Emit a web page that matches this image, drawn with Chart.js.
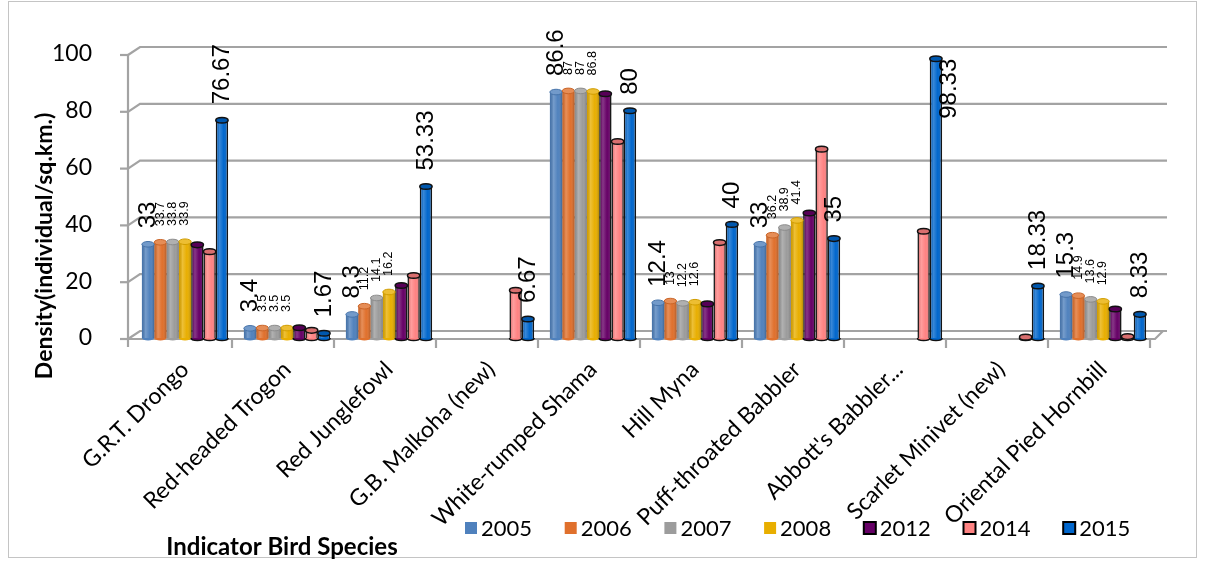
<!DOCTYPE html>
<html>
<head>
<meta charset="utf-8">
<script src="https://cdn.jsdelivr.net/npm/chart.js@4.4.1/dist/chart.umd.min.js"></script>
<style>
  html, body { margin: 0; padding: 0; background: #ffffff; }
  #wrap { width: 1205px; height: 561px; position: relative; }
</style>
</head>
<body>
<div id="wrap"><canvas id="c" width="1205" height="561"></canvas></div>
<script>
// Indicator bird species and survey years
const categories = [
  'G.R.T. Drongo', 'Red-headed Trogon', 'Red Junglefowl', 'G.B. Malkoha (new)',
  'White-rumped Shama', 'Hill Myna', 'Puff-throated Babbler', "Abbott's Babbler...",
  'Scarlet Minivet (new)', 'Oriental Pied Hornbill'
];
const years = ['2005', '2006', '2007', '2008', '2012', '2014', '2015'];

// Density (individual/sq.km.) per species, one array per year
const d2005 = [33, 3.4, 8.3, null, 86.6, 12.4, 33, null, null, 15.3];
const d2006 = [33.7, 3.5, 11.2, null, 87, 13, 36.2, null, null, 14.9];
const d2007 = [33.8, 3.5, 14.1, null, 87, 12.2, 38.9, null, null, 13.6];
const d2008 = [33.9, 3.5, 16.2, null, 86.8, 12.6, 41.4, null, null, 12.9];
const d2012 = [32.8, 3.6, 18.5, null, 86, 12.0, 44, null, null, 10.2];
const d2014 = [30.4, 2.7, 22, 16.8, 69.2, 33.6, 66.5, 37.6, 0.3, 0.5];
const d2015 = [76.67, 1.67, 53.33, 6.67, 80, 40, 35, 98.33, 18.33, 8.33];

const yTicks = [0, 20, 40, 60, 80, 100];

// Styling per year
const seriesColors = ['#4F81BD', '#E0702C', '#9C9C9C', '#E8AE00', '#660066', '#FF8383', '#0066CC'];
const outlined = [false, false, false, false, true, true, true];
const labelFont = [24, 12.5, 12.5, 12.5, 0, 0, 24]; // 0: year without value labels

const seriesValues = [d2005, d2006, d2007, d2008, d2012, d2014, d2015];

const DEPTH_X = 12, DEPTH_Y = 8;   // back wall offset of the 3-D frame
const FRONT_SHIFT = 4;             // front edge sits a bit left of the bars

function tint(hex, amt) {
  const n = parseInt(hex.slice(1), 16);
  let r = (n >> 16) & 255, g = (n >> 8) & 255, b = n & 255;
  if (amt >= 0) { r += (255 - r) * amt; g += (255 - g) * amt; b += (255 - b) * amt; }
  else { r *= (1 + amt); g *= (1 + amt); b *= (1 + amt); }
  return `rgb(${Math.round(r)},${Math.round(g)},${Math.round(b)})`;
}

// Frame, back wall grid lines, floor and axis lines
const wallPlugin = {
  id: 'wall',
  beforeDraw(chart) {
    const c = chart.ctx;
    c.save();
    c.fillStyle = '#ffffff';
    c.fillRect(0, 0, chart.width, chart.height);
    c.strokeStyle = '#c4c4c4';
    c.lineWidth = 1;
    c.strokeRect(8.5, 1.5, 1188, 556);
    c.restore();
  },
  beforeDatasetsDraw(chart) {
    const c = chart.ctx, ys = chart.scales.y, a = chart.chartArea;
    const fx0 = a.left - FRONT_SHIFT - 2;           // front-left corner x
    const fx1 = a.right + 1;                         // front-right corner x
    c.save();
    c.strokeStyle = '#a3a3a3';
    c.lineWidth = 2.2;
    yTicks.forEach(v => {
      const yf = ys.getPixelForValue(v) + 1;
      const yb = yf - DEPTH_Y;
      c.beginPath();
      c.moveTo(fx0, yf);
      c.lineTo(fx0 + DEPTH_X, yb);
      c.lineTo(fx1 + DEPTH_X, yb);
      c.stroke();
      // tick mark on the front axis
      c.beginPath();
      c.moveTo(fx0 - 8, yf);
      c.lineTo(fx0, yf);
      c.stroke();
    });
    // front vertical axis
    const yTop = ys.getPixelForValue(100) + 1, yBot = ys.getPixelForValue(0) + 1;
    c.beginPath();
    c.moveTo(fx0, yTop);
    c.lineTo(fx0, yBot + 8);
    c.stroke();
    // front floor edge and right floor corner
    c.beginPath();
    c.moveTo(fx0, yBot);
    c.lineTo(fx1, yBot);
    c.lineTo(fx1 + DEPTH_X - 4, yBot - DEPTH_Y);
    c.stroke();
    // category separators below the floor
    const n = categories.length;
    const w = (a.right - a.left) / n;
    for (let k = 1; k <= n; k++) {
      const x = a.left + k * w - FRONT_SHIFT;
      c.beginPath();
      c.moveTo(x, yBot);
      c.lineTo(x, yBot + 9);
      c.stroke();
    }
    c.restore();
  }
};

// Cylinder shading, caps and value labels
const cylinderPlugin = {
  id: 'cylinders',
  afterDatasetsDraw(chart) {
    const c = chart.ctx;
    c.save();
    seriesValues.forEach((vals, i) => {
      const meta = chart.getDatasetMeta(i);
      const col = seriesColors[i];
      meta.data.forEach((bar, j) => {
        if (vals[j] == null) return;
        const p = bar.getProps(['x', 'y', 'base', 'width'], true);
        const L = p.x - p.width / 2, R = p.x + p.width / 2;
        const h = p.base - p.y;
        if (h > 0.5) {
          const g = c.createLinearGradient(L, 0, R, 0);
          g.addColorStop(0, 'rgba(0,0,0,0.10)');
          g.addColorStop(0.3, 'rgba(255,255,255,0.22)');
          g.addColorStop(0.65, 'rgba(255,255,255,0)');
          g.addColorStop(1, 'rgba(0,0,0,0.22)');
          c.fillStyle = g;
          c.fillRect(L, p.y, p.width, h);
        }
        // rounded bottom
        c.beginPath();
        c.ellipse(p.x, p.base, p.width / 2, 2.5, 0, 0, Math.PI);
        c.fillStyle = col;
        c.fill();
        if (outlined[i]) { c.strokeStyle = '#111'; c.lineWidth = 1.5; c.stroke(); }
        // top cap
        c.beginPath();
        c.ellipse(p.x, p.y, p.width / 2, 2.8, 0, 0, Math.PI * 2);
        c.fillStyle = tint(col, outlined[i] ? -0.15 : 0.2);
        c.fill();
        c.strokeStyle = outlined[i] ? '#111' : tint(col, -0.1);
        c.lineWidth = outlined[i] ? 1.5 : 1;
        c.stroke();
      });
    });

    // value labels, rotated to read upward
    seriesValues.forEach((vals, i) => {
      const size = labelFont[i];
      if (!size) return;
      const meta = chart.getDatasetMeta(i);
      c.font = `${size}px "Liberation Sans", Arial, sans-serif`;
      c.fillStyle = '#000';
      c.textAlign = 'left';
      c.textBaseline = 'middle';
      meta.data.forEach((bar, j) => {
        if (vals[j] == null) return;
        const p = bar.getProps(['x', 'y', 'width'], true);
        const txt = String(vals[j]);
        const tw = c.measureText(txt).width;
        c.save();
        if (p.y - 16 - tw < 2) {
          c.translate(p.x + p.width / 2 + 7, p.y + tw);
        } else {
          c.translate(p.x, p.y - 16);
        }
        c.rotate(-Math.PI / 2);
        c.fillText(txt, 0, 0);
        c.restore();
      });
    });
    c.restore();
  }
};

// Legend and axis titles
const annotatePlugin = {
  id: 'annotate',
  afterDraw(chart) {
    const c = chart.ctx;
    c.save();
    // legend
    c.font = '22px Lato, "Open Sans", sans-serif';
    c.textAlign = 'left';
    c.textBaseline = 'middle';
    years.forEach((y, i) => {
      const bx = 465 + 99.7 * i, by = 522;
      c.fillStyle = seriesColors[i];
      c.fillRect(bx, by, 12, 12);
      if (outlined[i]) { c.strokeStyle = '#000'; c.lineWidth = 2; c.strokeRect(bx, by, 12, 12); }
      c.fillStyle = '#000';
      c.fillText(y, bx + 16, by + 7);
    });
    // axis titles
    c.font = 'bold 23px Lato, "Open Sans", sans-serif';
    c.textAlign = 'center';
    c.save();
    c.translate(45, 246);
    c.rotate(-Math.PI / 2);
    c.fillText('Density(individual/sq.km.)', 0, 0);
    c.restore();
    c.font = 'bold 24px Lato, "Open Sans", sans-serif';
    c.fillText('Indicator Bird Species', 282, 547);
    c.restore();
  }
};

const ctx = document.getElementById('c').getContext('2d');
new Chart(ctx, {
  type: 'bar',
  data: {
    labels: categories,
    datasets: years.map((y, i) => ({
      label: y,
      data: seriesValues[i],
      backgroundColor: seriesColors[i],
      borderColor: outlined[i] ? '#111111' : seriesColors[i],
      borderWidth: outlined[i] ? 1.5 : 0,
      borderSkipped: 'start',
      categoryPercentage: 0.845,
      barPercentage: 1.0
    }))
  },
  options: {
    responsive: false,
    animation: false,
    devicePixelRatio: 1,
    layout: { padding: { left: 0, right: 51, top: 54, bottom: 0 } },
    plugins: { legend: { display: false }, tooltip: { enabled: false } },
    scales: {
      x: {
        grid: { display: false },
        border: { display: false },
        ticks: {
          autoSkip: false,
          minRotation: 45,
          maxRotation: 45,
          padding: 10,
          color: '#000',
          font: { family: 'Lato, "Open Sans", sans-serif', size: 23 }
        },
        afterFit(s) { s.height = 561 - 338; }
      },
      y: {
        min: 0,
        max: 100,
        grid: { display: false },
        border: { display: false },
        ticks: {
          stepSize: 20,
          padding: 34,
          color: '#000',
          font: { family: 'Lato, "Open Sans", sans-serif', size: 23 }
        },
        afterFit(s) { s.width = 134; }
      }
    }
  },
  plugins: [wallPlugin, cylinderPlugin, annotatePlugin]
});
</script>
</body>
</html>
